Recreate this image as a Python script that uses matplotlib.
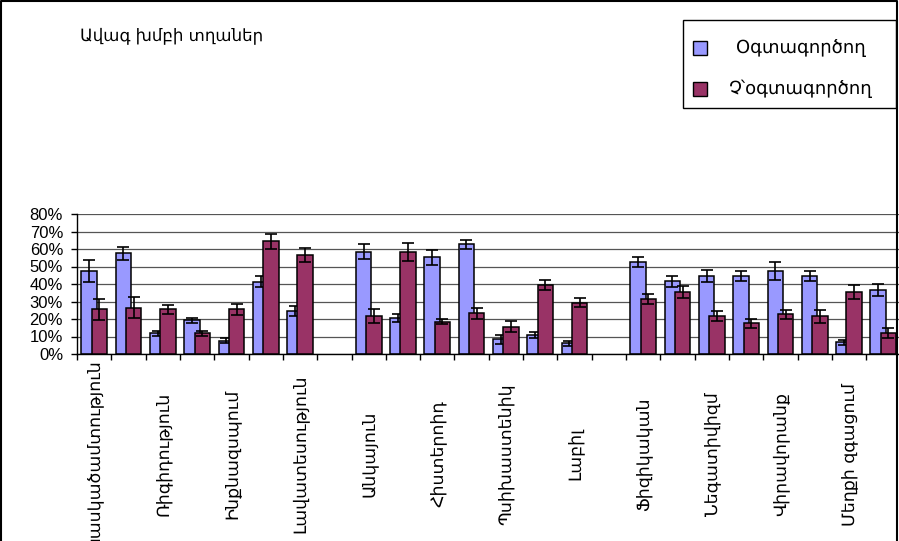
import matplotlib
matplotlib.use('Agg')
import matplotlib.pyplot as plt
import numpy as np
from matplotlib.patches import Rectangle
from matplotlib.ticker import PercentFormatter, MultipleLocator, FixedLocator

nan = np.nan

# every other label is hidden in the original (Excel skips them)
labels = ['Կասկածամտություն', '', 'Ռիգիդություն', '', 'Ինքնազսպում', '',
          'Լավատեսություն', '', 'Անկայուն', '', 'Հիստերոիդ', '',
          'Պսիխաստենիկ', '', 'Լաբիլ', '', 'Ֆիզիկական', '',
          'Նեգատիվիզմ', '', 'Վիրավորանք', '', 'Մեղքի զգացում', '']

users = [47.4, 57.5, 11.8, 19.4, 7.6, 41.3, 24.6, nan,
         58.5, 20.4, 55.2, 62.7, 8.4, 10.9, 6.1, nan,
         52.4, 41.5, 44.6, 44.6, 47.4, 44.6, 6.7, 36.6]
users_err = [6.5, 3.8, 1.3, 1.4, 1.3, 3.0, 3.0, nan,
             4.2, 2.2, 4.2, 2.6, 2.4, 1.8, 1.5, nan,
             2.9, 3.0, 3.5, 2.6, 5.0, 3.0, 1.4, 3.6]
nonusers = [25.5, 26.5, 25.5, 11.8, 25.5, 64.4, 56.6, nan,
            21.7, 58.5, 18.5, 23.2, 15.6, 39.4, 29.3, nan,
            31.4, 35.6, 21.7, 17.5, 22.6, 21.7, 35.6, 11.8]
nonusers_err = [6.0, 6.0, 2.5, 1.3, 3.0, 4.4, 4.2, nan,
                4.0, 5.2, 1.5, 3.0, 3.0, 3.0, 2.6, nan,
                3.0, 3.4, 2.6, 2.7, 2.8, 3.7, 3.9, 2.8]

title = 'Ավագ խմբի տղաներ'
series_names = ['Օգտագործող', 'Չ՝օգտագործող']
colors = ['#9999FF', '#993366']

W, H = 899, 541
fig = plt.figure(figsize=(W / 100, H / 100), dpi=100)
fig.patch.set_facecolor('white')

ax = fig.add_axes([77 / W, 187 / H, 823.5 / W, 140 / H])
x = np.arange(len(labels))
bw = 0.45
ax.bar(x - 0.15, users, bw, color=colors[0], edgecolor='black', linewidth=1.1, zorder=2)
ax.errorbar(x - 0.15, users, yerr=users_err, fmt='none', ecolor='black',
            elinewidth=1.2, capsize=4, capthick=1.2, zorder=3)
ax.bar(x + 0.15, nonusers, bw, color=colors[1], edgecolor='black', linewidth=1.1, zorder=4)
ax.errorbar(x + 0.15, nonusers, yerr=nonusers_err, fmt='none', ecolor='black',
            elinewidth=1.2, capsize=4, capthick=1.2, zorder=5)

ax.set_xlim(-0.5, len(labels) - 0.5)
ax.set_ylim(0, 80)
ax.yaxis.set_major_locator(MultipleLocator(10))
ax.yaxis.set_major_formatter(PercentFormatter(decimals=0))
ax.yaxis.grid(True, color='#555555', linewidth=0.9)
ax.set_axisbelow(True)
for s in ['top', 'right']:
    ax.spines[s].set_visible(False)
for s in ['left', 'bottom']:
    ax.spines[s].set_linewidth(1.0)

ax.tick_params(axis='y', direction='out', length=4, width=1, pad=6,
               labelsize=12)
for t in ax.get_yticklabels():
    t.set_fontfamily('Liberation Sans')

ax.set_xticks(x)
ax.set_xticklabels(labels, rotation=90, va='center', ha='center',
                   fontsize=12.5, family='DejaVu Sans')
ax.tick_params(axis='x', which='major', length=0, pad=72)
ax.xaxis.set_minor_locator(FixedLocator(np.arange(-0.5, len(labels), 1.0)))
ax.tick_params(axis='x', which='minor', direction='out', length=4, width=1)

fig.text(80 / W, 1 - 35 / H, title, fontsize=12, family='DejaVu Sans',
         ha='left', va='center')

# legend box
fig.patches.append(Rectangle((683 / W, 1 - 108 / H), 213 / W, 88 / H,
                             transform=fig.transFigure, fill=False,
                             edgecolor='black', linewidth=1.0))
for i, (name, c) in enumerate(zip(series_names, colors)):
    yc = 48 + 41 * i
    fig.patches.append(Rectangle((693 / W, 1 - (yc + 7) / H), 14 / W, 14 / H,
                                 transform=fig.transFigure, facecolor=c,
                                 edgecolor='black', linewidth=1.0))
    fig.text(801 / W, 1 - yc / H, name, fontsize=13, family='DejaVu Sans',
             ha='center', va='center')

# chart area border
fig.add_artist(plt.Line2D([1 / W, 1 / W, (W - 2) / W, (W - 2) / W],
                          [0, 1 - 1 / H, 1 - 1 / H, 0],
                          transform=fig.transFigure, color='black', linewidth=1.5))

fig.savefig('out.png', dpi=100)
